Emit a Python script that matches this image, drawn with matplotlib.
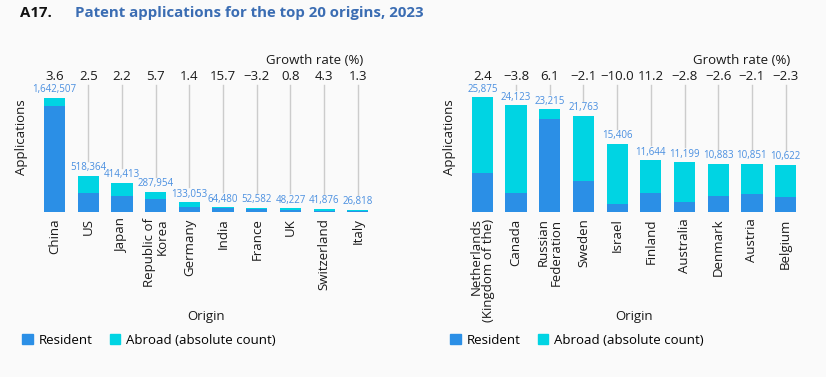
import numpy as np
import matplotlib.pyplot as plt
from matplotlib.patches import Patch

plt.rcParams['font.family'] = ['Open Sans', 'DejaVu Sans']

# left panel: top 10 origins
origins_a = ["China", "US", "Japan", "Republic of\nKorea", "Germany", "India",
             "France", "UK", "Switzerland", "Italy"]
total_a = [1642507, 518364, 414413, 287954, 133053, 64480, 52582, 48227, 41876, 26818]
resident_a = [1513000, 263000, 222000, 182000, 58000, 50000, 38000, 19000, 9000, 9000]
growth_a = ["3.6", "2.5", "2.2", "5.7", "1.4", "15.7", "\u22123.2", "0.8", "4.3", "1.3"]

# right panel: origins 11-20
origins_b = ["Netherlands\n(Kingdom of the)", "Canada", "Russian\nFederation", "Sweden",
             "Israel", "Finland", "Australia", "Denmark", "Austria", "Belgium"]
total_b = [25875, 24123, 23215, 21763, 15406, 11644, 11199, 10883, 10851, 10622]
resident_b = [8800, 4100, 21100, 7000, 1600, 4100, 2200, 3600, 3900, 3400]
growth_b = ["2.4", "\u22123.8", "6.1", "\u22122.1", "\u221210.0", "11.2", "\u22122.8",
            "\u22122.6", "\u22122.1", "\u22122.3"]

BLUE = "#2b8fe6"
CYAN = "#00d4e3"
LABEL = "#4a8fe0"
BG = "#fafafa"
TXT = "#1a1a1a"

W, H = 826, 377
fig = plt.figure(figsize=(W / 100, H / 100), dpi=100, facecolor=BG)

fig.text(20 / W, 1 - 13 / H, "A17.", fontsize=10.8, fontweight="bold", va="center", color="#111111")
fig.text(75 / W, 1 - 13 / H, "Patent applications for the top 20 origins, 2023",
         fontsize=10.8, fontweight="bold", va="center", color="#3b6db3")

base_px = 211.5
top_px = 50
ax_h = base_px - top_px
FS = 9.5


def panel(left_px, leg_px, origins, total, resident, growth):
    ax = fig.add_axes([left_px / W, 1 - base_px / H, 337 / W, ax_h / H])
    ax.set_facecolor(BG)
    x = np.arange(len(origins))
    total = np.array(total)
    resident = np.array(resident)
    abroad = total - resident
    ymax = total[0] * ax_h / 114
    px = ymax / ax_h
    ax.bar(x, resident, width=0.63, color=BLUE)
    ax.bar(x, abroad, width=0.63, bottom=resident, color=CYAN)
    line_top = ymax * (base_px - 85) / ax_h
    for i in range(len(x)):
        ax.text(x[i], total[i] + 2.5 * px, f"{total[i]:,}", ha="center", va="bottom",
                fontsize=7, color=LABEL)
        lo = total[i] + 15 * px
        if lo < line_top:
            ax.plot([x[i], x[i]], [lo, line_top], color="#cccccc", lw=1)
        ax.text(x[i], (base_px - 77) / ax_h, growth[i], ha="center", va="center",
                fontsize=FS, color=TXT, transform=ax.get_xaxis_transform())
    ax.text(0.965, (base_px - 60) / ax_h, "Growth rate (%)", ha="right", va="center",
            fontsize=FS, color=TXT, transform=ax.transAxes)
    ax.set_xlim(-0.5, len(x) - 0.5)
    ax.set_ylim(0, ymax)
    ax.set_xticks(x)
    ax.set_xticklabels(origins, rotation=90, fontsize=FS, color=TXT,
                       multialignment="right", linespacing=0.95)
    ax.tick_params(axis="x", length=0, pad=5)
    ax.set_yticks([])
    for s in ax.spines.values():
        s.set_visible(False)
    ax.set_ylabel("Applications", fontsize=FS, color=TXT)
    ax.yaxis.set_label_coords(-0.029, (base_px - 137) / ax_h)
    ax.set_xlabel("Origin", fontsize=FS, color=TXT)
    ax.xaxis.set_label_coords(0.5, -(310 - base_px) / ax_h)
    handles = [Patch(color=BLUE, label="Resident"), Patch(color=CYAN, label="Abroad (absolute count)")]
    ax.legend(handles=handles, ncol=2, frameon=False, fontsize=FS, loc="center left",
              bbox_to_anchor=((leg_px - left_px) / 337, -(340 - base_px) / ax_h),
              handlelength=0.8, handleheight=0.8, handletextpad=0.45, columnspacing=1.3,
              borderaxespad=0, borderpad=0)
    return ax


panel(37.7, 22, origins_a, total_a, resident_a, growth_a)
panel(465.5, 450, origins_b, total_b, resident_b, growth_b)

fig.savefig("out.png", dpi=100, facecolor=BG)
